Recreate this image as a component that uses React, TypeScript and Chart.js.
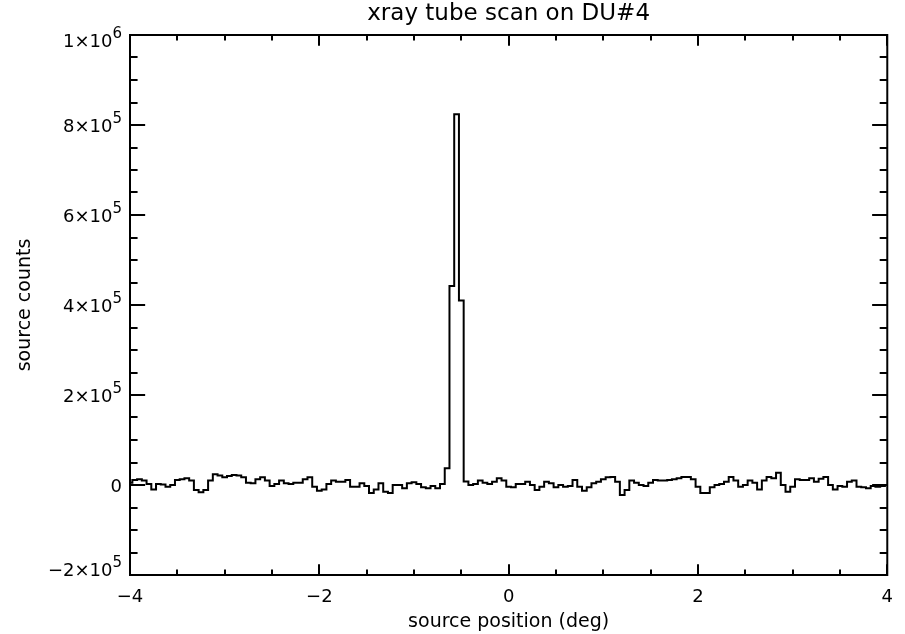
import React, { useEffect, useRef } from "react";
import { Chart, registerables } from "chart.js";

Chart.register(...registerables);

// ---- data ----
const titleText = "xray tube scan on DU#4";
const xAxisTitle = "source position (deg)";
const yAxisTitle = "source counts";

const binStart = -4;
const binWidth = 0.05;

// source counts per bin (bin centres from -4 to 4 deg, step 0.05)
const sourceCounts: number[] = [
  5000, 11000, 13000, 10000, 2000, -10000, 2000, 1000, -4000, 0,
  11000, 13000, 15000, 10000, -11000, -16000, -11000, 10000, 24000, 21000,
  17000, 20000, 22000, 21000, 17000, 5000, 4000, 13000, 17000, 10000,
  -2000, 2000, 10000, 4000, 2000, 5000, 5000, 13000, 17000, -4000,
  -13000, -10000, 2000, 10000, 7000, 7000, 11000, -4000, -4000, 4000,
  -2000, -18000, -10000, 4000, -15000, -18000, 0, 0, -7000, 4000,
  6000, 2000, -5000, -7000, -2000, -7000, 2000, 37000, 442000, 824000,
  410000, 8000, 0, 2000, 10000, 5000, 2000, 7000, 15000, 10000,
  -4000, -5000, 2000, 2000, 7000, 0, -11000, -4000, 7000, 4000,
  -5000, 0, -4000, -2000, 11000, -4000, -13000, -5000, 4000, 7000,
  13000, 17000, 18000, 7000, -22000, -11000, 10000, 5000, 0, -2000,
  5000, 11000, 10000, 10000, 11000, 13000, 15000, 18000, 18000, 13000,
  -4000, -18000, -18000, -5000, 0, 2000, 7000, 18000, 10000, -4000,
  0, 10000, 5000, -10000, 10000, 18000, 15000, 27000, 0, -15000,
  -4000, 13000, 11000, 11000, 15000, 7000, 14000, 18000, 0, -10000,
  -2000, -4000, 7000, 10000, -4000, -5000, -7000, -2000, -4000, -2000,
  0,
];

const xMin = -4;
const xMax = 4;
const xMajorStep = 2;
const xMinorStep = 0.5;
const xTickValues = [-4, -2, 0, 2, 4];
const xTickLabels = ["\u22124", "\u22122", "0", "2", "4"];

const yMin = -200000;
const yMax = 1000000;
const yMajorStep = 200000;
const yMinorStep = 50000;
const yTickValues = [-200000, 0, 200000, 400000, 600000, 800000, 1000000];
const yTickMantissa = ["\u22122\u00d710", "0", "2\u00d710", "4\u00d710", "6\u00d710", "8\u00d710", "1\u00d710"];
const yTickExponent = ["5", "", "5", "5", "5", "5", "6"];

const FONT = "'DejaVu Sans', 'Liberation Sans', sans-serif";

const idlFramePlugin = {
  id: "idlFrame",
  afterDraw(chart: any) {
    const { ctx, chartArea: a, scales } = chart;
    const xs = scales.x;
    const ys = scales.y;
    const w = a.right - a.left;
    const h = a.bottom - a.top;
    ctx.save();
    ctx.strokeStyle = "#000";
    ctx.lineWidth = 2;
    ctx.lineCap = "butt";
    ctx.strokeRect(a.left, a.top, w, h);

    const xMajorLen = 0.02 * h;
    const yMajorLen = 0.02 * w;
    ctx.beginPath();
    const nx = Math.round((xMax - xMin) / xMinorStep);
    for (let i = 0; i <= nx; i++) {
      const v = xMin + i * xMinorStep;
      const px = Math.round(xs.getPixelForValue(v));
      const major = Math.abs(v / xMajorStep - Math.round(v / xMajorStep)) < 1e-6;
      const len = major ? xMajorLen : xMajorLen / 2;
      ctx.moveTo(px, a.bottom);
      ctx.lineTo(px, a.bottom - len);
      ctx.moveTo(px, a.top);
      ctx.lineTo(px, a.top + len);
    }
    const ny = Math.round((yMax - yMin) / yMinorStep);
    for (let i = 0; i <= ny; i++) {
      const v = yMin + i * yMinorStep;
      const py = Math.round(ys.getPixelForValue(v));
      const major = Math.abs(v / yMajorStep - Math.round(v / yMajorStep)) < 1e-6;
      const len = major ? yMajorLen : yMajorLen / 2;
      ctx.moveTo(a.left, py);
      ctx.lineTo(a.left + len, py);
      ctx.moveTo(a.right, py);
      ctx.lineTo(a.right - len, py);
    }
    ctx.stroke();

    // y tick labels with raised exponents
    ctx.fillStyle = "#000";
    ctx.textAlign = "right";
    ctx.textBaseline = "middle";
    const rightX = a.left - 8;
    yTickValues.forEach((v, i) => {
      const py = ys.getPixelForValue(v);
      const cy = Math.min(Math.max(py + 2, a.top + 7), a.bottom - 4);
      let expW = 0;
      if (yTickExponent[i]) {
        ctx.font = `15px ${FONT}`;
        expW = ctx.measureText(yTickExponent[i]).width;
        ctx.fillText(yTickExponent[i], rightX, cy - 8);
      }
      ctx.font = `18px ${FONT}`;
      ctx.fillText(yTickMantissa[i], rightX - expW, cy);
    });
    ctx.restore();
  },
};

export default function App() {
  const canvasRef = useRef<HTMLCanvasElement | null>(null);

  useEffect(() => {
    document.body.style.margin = "0";
    const canvas = canvasRef.current;
    if (!canvas) return;
    const points = sourceCounts.map((c, i) => ({ x: binStart + i * binWidth, y: c }));
    const chart = new Chart(canvas, {
      type: "line",
      data: {
        datasets: [
          {
            data: points,
            stepped: "middle",
            borderColor: "#000",
            borderWidth: 2,
            pointRadius: 0,
            fill: false,
            borderJoinStyle: "miter",
          } as any,
        ],
      },
      options: {
        animation: false,
        responsive: false,
        maintainAspectRatio: false,
        devicePixelRatio: 1,
        layout: { padding: { left: 0, right: 15, top: 0, bottom: 0 } },
        plugins: {
          legend: { display: false },
          tooltip: { enabled: false },
          title: {
            display: true,
            fullSize: false,
            text: titleText,
            color: "#000",
            font: { family: FONT, size: 23, weight: "normal" },
            padding: { top: 0, bottom: 7.4 },
          },
        },
        scales: {
          x: {
            type: "linear",
            min: xMin,
            max: xMax,
            grid: { display: false, drawTicks: false },
            border: { display: false },
            ticks: {
              stepSize: xMajorStep,
              autoSkip: false,
              maxRotation: 0,
              padding: 12,
              color: "#000",
              font: { family: FONT, size: 18 },
              callback: (value: any) => {
                const i = xTickValues.indexOf(Number(value));
                return i >= 0 ? xTickLabels[i] : "";
              },
            },
            title: {
              display: true,
              text: xAxisTitle,
              color: "#000",
              font: { family: FONT, size: 19 },
              padding: { top: 1, bottom: 1 },
            },
            afterFit: (s: any) => {
              s.height = 59;
            },
          },
          y: {
            type: "linear",
            min: yMin,
            max: yMax,
            grid: { display: false, drawTicks: false },
            border: { display: false },
            ticks: { display: false, stepSize: yMajorStep },
            title: {
              display: true,
              text: yAxisTitle,
              color: "#000",
              font: { family: FONT, size: 19 },
              padding: { top: 14, bottom: 14 },
            },
            afterFit: (s: any) => {
              s.width = 130;
            },
          },
        },
      } as any,
      plugins: [idlFramePlugin],
    });
    return () => chart.destroy();
  }, []);

  return (
    <div style={{ position: "absolute", left: 0, top: 0, width: 905, height: 634, background: "#fff" }}>
      <canvas ref={canvasRef} width={905} height={634} style={{ width: 905, height: 634, display: "block" }} />
    </div>
  );
}
